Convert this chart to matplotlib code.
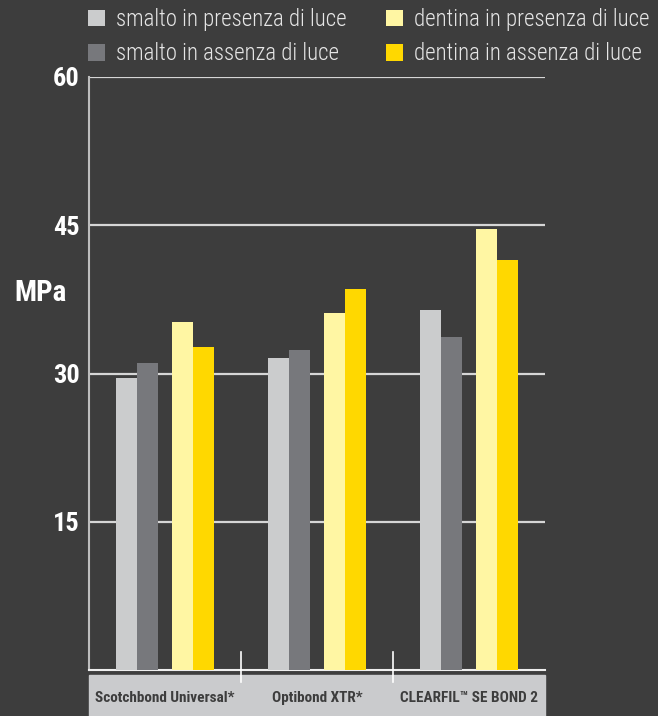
import matplotlib.pyplot as plt
import matplotlib.transforms as mtransforms
from matplotlib.patches import Rectangle
import numpy as np

# data (MPa)
products = ['Scotchbond Universal*', 'Optibond XTR*', 'CLEARFIL™ SE BOND 2']
series_names = ['smalto in presenza di luce', 'smalto in assenza di luce',
                'dentina in presenza di luce', 'dentina in assenza di luce']
smalto_luce = [29.5, 31.6, 36.4]
smalto_buio = [31.1, 32.4, 33.7]
dentina_luce = [35.2, 36.1, 44.6]
dentina_buio = [32.7, 38.6, 41.5]
y_ticks = [15, 30, 45, 60]

colors = ['#cbcccd', '#77787c', '#fff6a3', '#ffd800']
bg = '#3d3d3d'

plt.rcParams['font.family'] = ['Roboto Condensed', 'Roboto', 'DejaVu Sans']

W, H = 658, 716
fig = plt.figure(figsize=(W / 100, H / 100), dpi=100, facecolor=bg)
ax = fig.add_axes([89 / W, 1 - 670 / H, (545 - 89) / W, (670 - 77) / H])
ax.set_facecolor(bg)

x = np.arange(len(products))
w = 0.14
offsets = [-0.253, -0.113, 0.113, 0.253]
all_series = [smalto_luce, smalto_buio, dentina_luce, dentina_buio]
for vals, off, c, lab in zip(all_series, offsets, colors, series_names):
    ax.bar(x + off, vals, width=w, color=c, label=lab, zorder=3)

ax.set_xlim(-0.5, 2.5)
ax.set_ylim(0, 60)
ax.set_yticks(y_ticks)
ax.set_xticks([])
ax.yaxis.grid(True, color='#d6d6d6', linewidth=1.6)
ax.set_axisbelow(True)
for s in ['top', 'right']:
    ax.spines[s].set_visible(False)
ax.spines['left'].set_color('#bdbdbd')
ax.spines['left'].set_linewidth(1.5)
ax.spines['bottom'].set_color('#eeeeee')
ax.spines['bottom'].set_linewidth(1.5)
ax.tick_params(axis='y', length=0, pad=6.5, labelsize=19, labelcolor='white')
for t in ax.get_yticklabels():
    t.set_fontweight('bold')

fig.text(14 / W, 1 - 293 / H, 'MPa', color='white', fontsize=21,
         fontweight='bold', ha='left', va='center')

# light band under the x axis with the product names
trans = mtransforms.blended_transform_factory(ax.transData, ax.transAxes)
ax.add_patch(Rectangle((0, -0.1), 1, 0.1 - 5 / 593, transform=ax.transAxes,
                       color='#cacbcd', clip_on=False, zorder=1))
for sep in [0.5, 1.5]:
    ax.plot([sep, sep], [-12 / 593, 18 / 593], color='white', lw=1.2,
            transform=trans, clip_on=False, zorder=4)
for i, name in enumerate(products):
    ax.text(i, -28 / 593, name, transform=trans, ha='center', va='center',
            fontsize=11, fontweight='bold', color='#3d3d3d')

leg = ax.legend(ncol=2, loc='upper left', bbox_to_anchor=(88 / W, 1 - 8 / H),
                bbox_transform=fig.transFigure, frameon=False,
                prop={'size': 16.5, 'weight': 300},
                handlelength=0.75, handleheight=0.75, handletextpad=0.48,
                labelspacing=0.5, columnspacing=1.7, borderpad=0,
                borderaxespad=0)
for t in leg.get_texts():
    t.set_color('#e6e6e6')

fig.savefig('out.png', dpi=100, facecolor=bg)
